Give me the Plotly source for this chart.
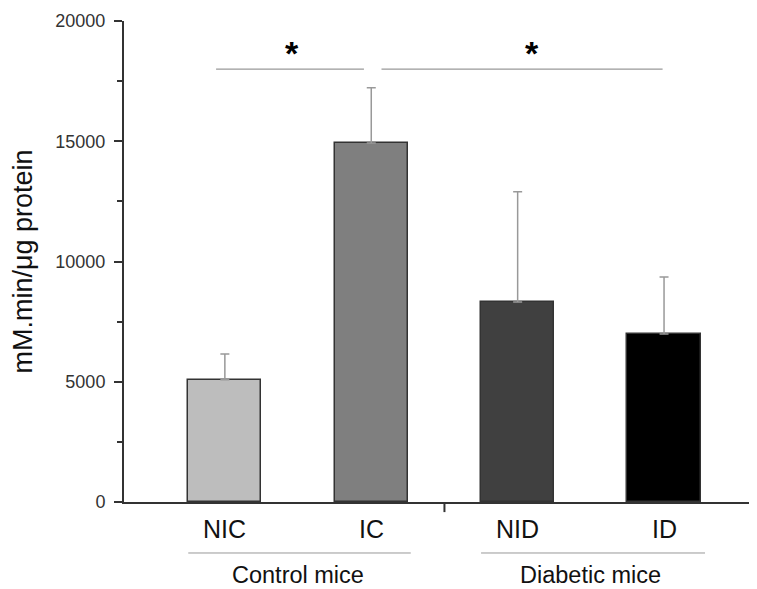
import plotly.graph_objects as go

categories = ["NIC", "IC", "NID", "ID"]
means = [5080, 14930, 8320, 6990]
sem_plus = [1070, 2290, 4580, 2370]
bar_colors = ["#bdbdbd", "#7f7f7f", "#404040", "#000000"]
groups = ["Control mice", "Diabetic mice"]
group_centers = [0.5, 2.5]
y_ticks = [0, 5000, 10000, 15000, 20000]
y_tick_labels = ["0", "5000", "10000", "15000", "20000"]
sig_y = 18000

FONT = "Arial, Liberation Sans, Helvetica, sans-serif"
xs = list(range(len(categories)))

fig = go.Figure()
fig.add_trace(go.Bar(
    x=xs, y=means, width=0.5,
    marker=dict(color=bar_colors, line=dict(color="#333333", width=1.5)),
    error_y=dict(type="data", symmetric=False, array=sem_plus,
                 arrayminus=[0] * len(means), color="#999999",
                 thickness=1.5, width=4.5),
    showlegend=False,
))

shapes = []
shapes.append(dict(type="line", xref="x", yref="paper", x0=1.5, x1=1.5,
                   y0=0, y1=-0.021, line=dict(color="#333333", width=2)))
for x0, x1 in [(-0.25, 1.27), (1.75, 3.28)]:
    shapes.append(dict(type="line", xref="x", yref="paper", x0=x0, x1=x1,
                       y0=-0.106, y1=-0.106, line=dict(color="#999999", width=1)))
for x0, x1 in [(-0.06, 0.95), (1.07, 2.99)]:
    shapes.append(dict(type="line", xref="x", yref="y", x0=x0, x1=x1,
                       y0=sig_y, y1=sig_y, line=dict(color="#999999", width=1.2)))

annotations = []
for c, x in zip(categories, xs):
    annotations.append(dict(x=x, y=-0.056, xref="x", yref="paper", text=c,
                            showarrow=False, yanchor="middle",
                            font=dict(family=FONT, size=25, color="#111111")))
for g, x in zip(groups, group_centers):
    annotations.append(dict(x=x, y=-0.152, xref="x", yref="paper", text=g,
                            showarrow=False, yanchor="middle",
                            font=dict(family=FONT, size=23.5, color="#111111")))
for x in [0.46, 2.10]:
    annotations.append(dict(x=x, y=sig_y, xref="x", yref="y", text="<b>*</b>",
                            showarrow=False, yanchor="bottom", yshift=-5,
                            font=dict(family=FONT, size=34, color="#000000")))

fig.update_layout(
    width=749, height=581,
    margin=dict(l=112, r=0, t=13, b=87),
    paper_bgcolor="white", plot_bgcolor="white",
    shapes=shapes, annotations=annotations,
    bargap=0,
    xaxis=dict(range=[-0.689, 3.635], showticklabels=False, ticks="",
               showgrid=False, zeroline=False, showline=True,
               linecolor="#333333", linewidth=2, tickvals=[]),
    yaxis=dict(range=[0, 20000], tickvals=y_ticks, ticktext=y_tick_labels,
               ticks="outside", ticklen=8, tickwidth=2, tickcolor="#333333",
               ticklabelstandoff=5,
               minor=dict(dtick=2500, ticks="outside", ticklen=5,
                          tickwidth=1.5, tickcolor="#333333"),
               showgrid=False, zeroline=False, showline=True,
               linecolor="#333333", linewidth=2,
               tickfont=dict(family=FONT, size=18, color="#333333"),
               title=dict(text="mM.min/μg protein", standoff=28,
                          font=dict(family=FONT, size=27, color="#111111"))),
)

fig.write_html("out.html")
